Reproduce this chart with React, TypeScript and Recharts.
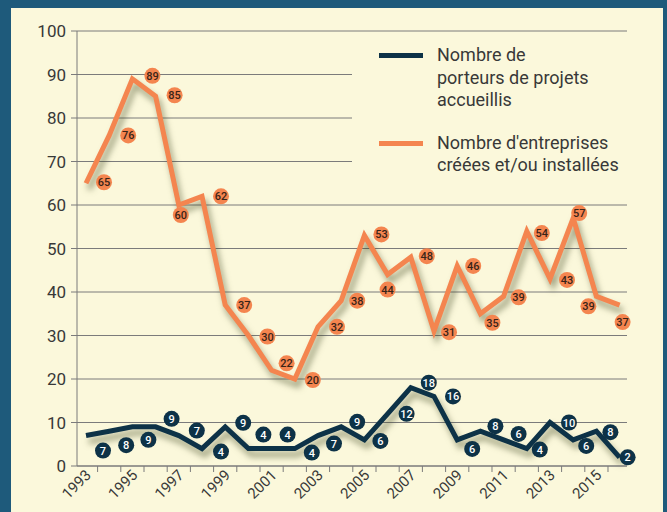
import { LineChart, Line, XAxis, YAxis, CartesianGrid, Legend } from 'recharts'

// ---------------------------------------------------------------------------
// Data
// ---------------------------------------------------------------------------
const years = [
  1993, 1994, 1995, 1996, 1997, 1998, 1999, 2000, 2001, 2002, 2003, 2004,
  2005, 2006, 2007, 2008, 2009, 2010, 2011, 2012, 2013, 2014, 2015, 2016,
]
const porteurs = [7, 8, 9, 9, 7, 4, 9, 4, 4, 4, 7, 9, 6, 12, 18, 16, 6, 8, 6, 4, 10, 6, 8, 2]
const entreprises = [65, 76, 89, 85, 60, 62, 37, 30, 22, 20, 32, 38, 53, 44, 48, 31, 46, 35, 39, 54, 43, 57, 39, 37]
const yTicks = [0, 10, 20, 30, 40, 50, 60, 70, 80, 90, 100]
const yearLabels = [1993, 1995, 1997, 1999, 2001, 2003, 2005, 2007, 2009, 2011, 2013, 2015]

const porteursName = 'Nombre de\nporteurs de projets\naccueillis'
const entreprisesName = "Nombre d'entreprises\ncréées et/ou installées"
const legendOrder = ['porteurs', 'entreprises']

// badge offsets from each point (dx, dy), hand placed like the original
const porteursBadge = [
  [17, 15], [17, 14], [16, 13], [16, -8], [18, -5], [19, 3], [18, -4], [15, -14],
  [16, -14], [17, 4], [16, 8], [16, -5], [16, 1], [19, 0], [18, -5], [19, 0],
  [15, 9], [15, -5], [15, -6], [13, 1], [19, 0], [13, 6], [14, 1], [8, 0],
]
const entreprisesBadge = [
  [18, -1], [19, 0], [20, -3], [19, -1], [2, 10], [19, 0], [19, 0], [19, 1],
  [15, -7], [18, 1], [19, 0], [16, 0], [17, -1], [0, 15], [16, -1], [15, 1],
  [16, 0], [12, 9], [15, 1], [15, 2], [17, 1], [6, -5], [-8, 10], [3, 17],
]

const data = years.map((year, i) => ({
  year,
  porteurs: porteurs[i],
  entreprises: entreprises[i],
}))

// ---------------------------------------------------------------------------
// Style
// ---------------------------------------------------------------------------
const FRAME = '#1e5a7b'
const CREAM = '#fbf8db'
const NAVY = '#0d3247'
const ORANGE = '#f4854f'
const TEXT = '#383838'
const GRID = '#7b7b7b'
const FONT = 'Roboto, "DejaVu Sans", sans-serif'

const X_MIN = 1992.612
const X_MAX = 2016.319
const PLOT_W = 550
const PX_PER_YEAR = PLOT_W / (X_MAX - X_MIN)
const boundaryTicks = years.slice(0, -1).map((y) => y + 0.5)

// ---------------------------------------------------------------------------
// Custom pieces
// ---------------------------------------------------------------------------
function YearTick({ x, y, payload }: { x: number; y: number; payload: { value: number } }) {
  const year = payload.value - 0.5
  if (!yearLabels.includes(year)) return <g />
  const ax = x - PX_PER_YEAR / 2 + 6
  const ay = y + 2
  return (
    <text
      x={ax}
      y={ay}
      transform={`rotate(-45 ${ax} ${ay})`}
      textAnchor="end"
      fontSize={15}
      fontFamily={FONT}
      fill={TEXT}
    >
      {year}
    </text>
  )
}

function makeBadge(offsets: number[][], key: string, fill: string, color: string) {
  return (props: any) => {
    const { cx, cy, index } = props
    const value = props.payload ? props.payload[key] : props.value
    const [dx, dy] = offsets[index] || [16, 0]
    const bx = cx + dx
    const by = cy + dy
    return (
      <g key={`${key}-${index}`}>
        <circle cx={bx} cy={by} r={8} fill={fill} />
        <text
          x={bx}
          y={by}
          dy={4}
          textAnchor="middle"
          fontSize={11}
          fontWeight={500}
          fontFamily={FONT}
          fill={color}
        >
          {value}
        </text>
      </g>
    )
  }
}

function LegendBox({ payload }: { payload?: { value: string; color: string; dataKey?: string }[] }) {
  if (!payload) return null
  const items = [...payload].sort(
    (a, b) => legendOrder.indexOf(String(a.dataKey)) - legendOrder.indexOf(String(b.dataKey)),
  )
  return (
    <div style={{ paddingTop: 10, paddingLeft: 27, fontFamily: FONT, color: TEXT }}>
      {items.map((item, i) => (
        <div key={i} style={{ display: 'flex', alignItems: 'flex-start', marginTop: i === 0 ? 0 : 20 }}>
          <span
            style={{
              display: 'inline-block',
              width: 44,
              height: 5,
              marginTop: 9,
              background: item.color,
              flex: 'none',
            }}
          />
          <span style={{ marginLeft: 14, fontSize: 18, lineHeight: '22.5px', whiteSpace: 'pre-line', textAlign: 'left' }}>
            {item.value}
          </span>
        </div>
      ))}
    </div>
  )
}

// ---------------------------------------------------------------------------
// Component
// ---------------------------------------------------------------------------
export default function App() {
  return (
    <div style={{ position: 'absolute', left: 0, top: 0, width: 667, height: 512, background: FRAME, overflow: 'hidden' }}>
      <style>{`.recharts-line path, .recharts-line-curve { filter: drop-shadow(3px 6px 3px rgba(60, 68, 30, 0.5)); }`}</style>
      <div style={{ position: 'absolute', left: 11, top: 8, width: 652, height: 504, background: CREAM }} />
      <div style={{ position: 'absolute', left: 0, top: 0 }}>
        <LineChart width={667} height={512} data={data} margin={{ top: 31, right: 40, left: 17, bottom: 6 }}>
          <CartesianGrid vertical={false} stroke={GRID} strokeWidth={1} />
          <XAxis
            dataKey="year"
            type="number"
            domain={[X_MIN, X_MAX]}
            ticks={boundaryTicks}
            interval={0}
            height={40}
            tickSize={6}
            tickMargin={2}
            axisLine={{ stroke: GRID }}
            tickLine={{ stroke: GRID }}
            tick={YearTick}
          />
          <YAxis
            domain={[0, 100]}
            ticks={yTicks}
            interval={0}
            width={60}
            tickSize={6}
            tickMargin={5}
            axisLine={{ stroke: GRID }}
            tickLine={{ stroke: GRID }}
            tick={{ fill: TEXT, fontSize: 17, fontFamily: FONT }}
          />
          <Legend
            layout="vertical"
            align="center"
            verticalAlign="middle"
            content={<LegendBox />}
            wrapperStyle={{ top: 34, left: 352, width: 290, height: 150, background: CREAM }}
          />
          <Line
            dataKey="porteurs"
            name={porteursName}
            stroke={NAVY}
            strokeWidth={5}
            strokeLinejoin="miter"
            dot={makeBadge(porteursBadge, 'porteurs', NAVY, '#ffffff')}
            activeDot={false}
            isAnimationActive={false}
            legendType="line"
          />
          <Line
            dataKey="entreprises"
            name={entreprisesName}
            stroke={ORANGE}
            strokeWidth={5}
            strokeLinejoin="miter"
            dot={makeBadge(entreprisesBadge, 'entreprises', ORANGE, '#3a2418')}
            activeDot={false}
            isAnimationActive={false}
            legendType="line"
          />
        </LineChart>
      </div>
    </div>
  )
}
